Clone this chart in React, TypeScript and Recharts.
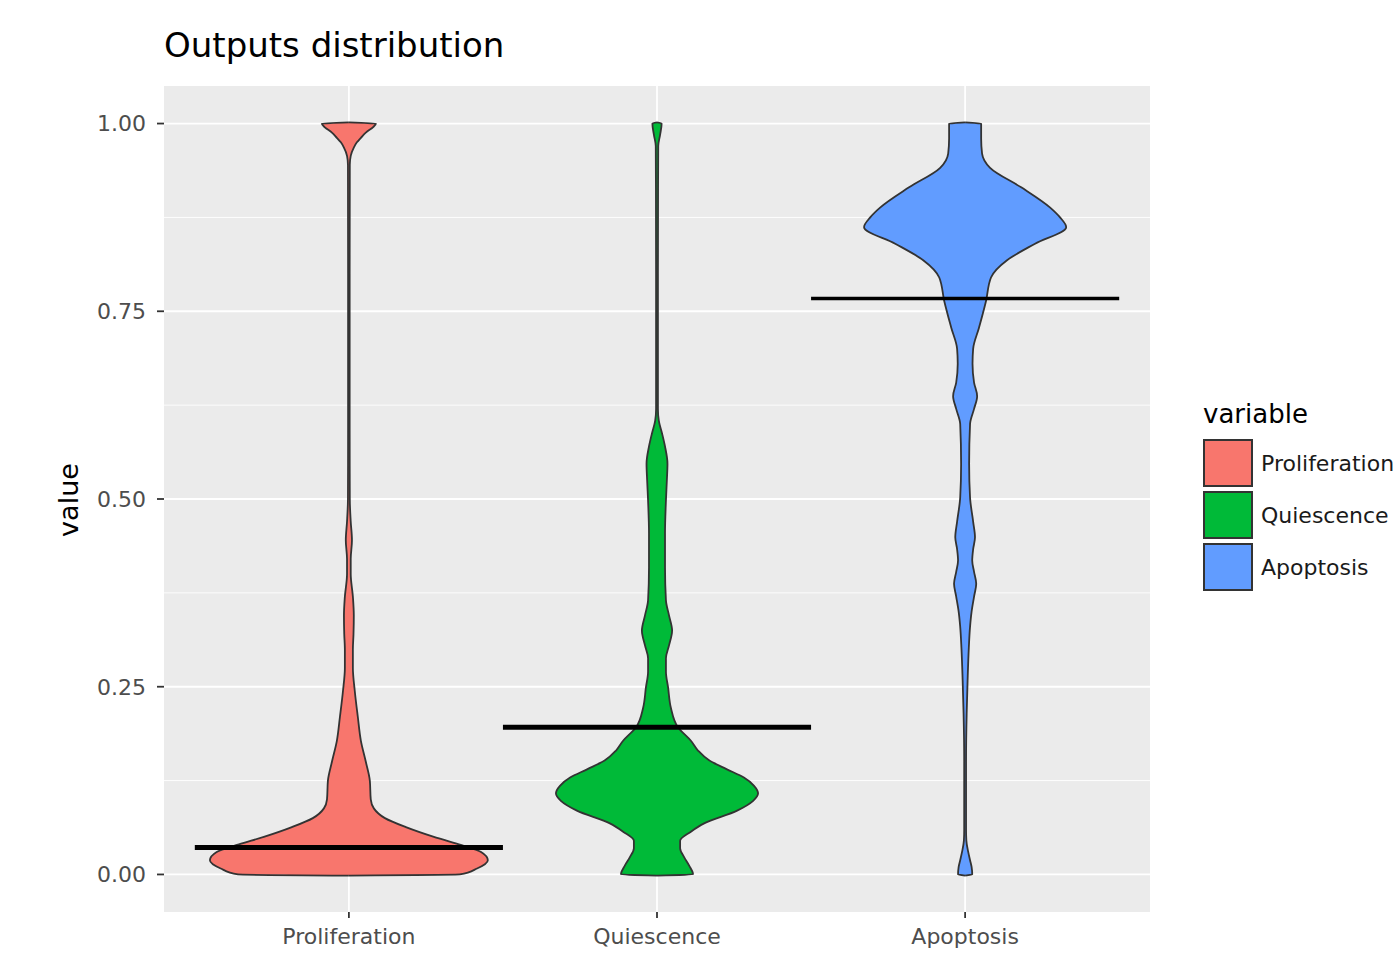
import { ComposedChart, Area, XAxis, YAxis, CartesianGrid, ReferenceLine, Legend } from 'recharts';

const CATEGORIES = ['Proliferation', 'Quiescence', 'Apoptosis'];
const COLORS = ['#F8766D', '#00BA38', '#619CFF'];
const MEANS = [0.036, 0.196, 0.767];
const Y_TICKS = [0, 0.25, 0.5, 0.75, 1];
const Y_MINOR = [0.125, 0.375, 0.625, 0.875];

// violin outlines: value -> half width (in category units)
const PROLIF_V = [-0.0015, 0, 0.008, 0.019, 0.03, 0.04, 0.05, 0.063, 0.075, 0.088, 0.1, 0.125, 0.15, 0.178, 0.21, 0.245, 0.275, 0.3, 0.32, 0.345, 0.37, 0.4, 0.42, 0.445, 0.47, 0.5, 0.6, 0.8, 0.945, 0.957, 0.968, 0.975, 0.981, 0.988, 0.995, 1, 1.0015];
const PROLIF_W = [0, 0.36, 0.416, 0.451, 0.429, 0.357, 0.276, 0.185, 0.117, 0.081, 0.071, 0.068, 0.055, 0.039, 0.029, 0.019, 0.013, 0.013, 0.015, 0.016, 0.013, 0.006, 0.006, 0.01, 0.006, 0.003, 0.0025, 0.0025, 0.003, 0.006, 0.016, 0.026, 0.039, 0.055, 0.078, 0.088, 0];

const QUIES_V = [-0.0015, 0, 0.012, 0.023, 0.035, 0.045, 0.057, 0.068, 0.085, 0.098, 0.108, 0.118, 0.129, 0.14, 0.152, 0.165, 0.178, 0.196, 0.222, 0.249, 0.27, 0.288, 0.305, 0.325, 0.345, 0.365, 0.409, 0.454, 0.498, 0.525, 0.547, 0.57, 0.588, 0.604, 0.62, 0.8, 0.97, 0.985, 1, 1.0015];
const QUIES_W = [0, 0.117, 0.104, 0.088, 0.075, 0.075, 0.11, 0.153, 0.26, 0.312, 0.328, 0.315, 0.282, 0.227, 0.169, 0.133, 0.11, 0.068, 0.045, 0.036, 0.029, 0.029, 0.039, 0.049, 0.039, 0.029, 0.026, 0.026, 0.029, 0.032, 0.034, 0.026, 0.016, 0.006, 0.003, 0.003, 0.004, 0.01, 0.015, 0];

const APOP_V = [-0.0015, 0, 0.01, 0.019, 0.03, 0.045, 0.06, 0.15, 0.214, 0.258, 0.302, 0.33, 0.35, 0.37, 0.387, 0.403, 0.418, 0.433, 0.449, 0.47, 0.502, 0.547, 0.6, 0.62, 0.637, 0.655, 0.68, 0.7, 0.728, 0.764, 0.795, 0.818, 0.84, 0.862, 0.875, 0.888, 0.915, 0.941, 0.96, 0.98, 1, 1.0015];
const APOP_W = [0, 0.023, 0.021, 0.016, 0.01, 0.004, 0.003, 0.003, 0.005, 0.008, 0.012, 0.016, 0.021, 0.029, 0.036, 0.029, 0.023, 0.026, 0.032, 0.026, 0.016, 0.013, 0.016, 0.029, 0.039, 0.029, 0.024, 0.026, 0.045, 0.068, 0.084, 0.136, 0.227, 0.328, 0.308, 0.276, 0.182, 0.081, 0.055, 0.052, 0.052, 0];

const VIOLINS = [
  { v: PROLIF_V, w: PROLIF_W },
  { v: QUIES_V, w: QUIES_W },
  { v: APOP_V, w: APOP_W },
];

const FONT = '"DejaVu Sans", sans-serif';

function VariableLegend() {
  return (
    <div style={{ fontFamily: FONT }}>
      <div style={{ fontSize: 26, lineHeight: '30px', color: '#000', marginBottom: 8 }}>variable</div>
      {CATEGORIES.map((c, i) => (
        <div key={c} style={{ display: 'flex', alignItems: 'center', height: 52 }}>
          <div
            style={{
              width: 50,
              height: 48,
              boxSizing: 'border-box',
              background: COLORS[i],
              border: '2px solid #333',
            }}
          />
          <span style={{ marginLeft: 8, fontSize: 22, color: '#1a1a1a', whiteSpace: 'nowrap' }}>{c}</span>
        </div>
      ))}
    </div>
  );
}

export default function App() {
  return (
    <div
      style={{
        position: 'absolute',
        left: 0,
        top: 0,
        width: 1396,
        height: 954,
        overflow: 'hidden',
        background: '#fff',
        fontFamily: FONT,
      }}
    >
      <div style={{ position: 'absolute', left: 164, top: 28, fontSize: 34, lineHeight: '34px', color: '#000' }}>
        Outputs distribution
      </div>
      <div
        style={{
          position: 'absolute',
          left: 68,
          top: 500,
          fontSize: 27,
          color: '#000',
          transform: 'translate(-50%, -50%) rotate(-90deg)',
        }}
      >
        value
      </div>
      <ComposedChart width={1396} height={954} layout="vertical" margin={{ top: 86, right: 246, bottom: 0, left: 100 }}>
        <CartesianGrid fill="#EBEBEB" vertical={false} horizontalValues={Y_MINOR} stroke="#fff" strokeWidth={0.9} />
        <CartesianGrid horizontalValues={Y_TICKS} verticalValues={[1, 2, 3]} stroke="#fff" strokeWidth={1.8} />
        <XAxis
          type="number"
          domain={[0.4, 3.6]}
          ticks={[1, 2, 3]}
          allowDataOverflow
          tickFormatter={(i: number) => CATEGORIES[i - 1]}
          height={42}
          axisLine={false}
          tickSize={6}
          tickMargin={10}
          tickLine={{ stroke: '#333', strokeWidth: 1.8 }}
          tick={{ fill: '#4D4D4D', fontSize: 22 }}
        />
        <YAxis
          type="number"
          dataKey="v"
          domain={[-0.05, 1.05]}
          ticks={Y_TICKS}
          reversed
          allowDataOverflow
          tickFormatter={(v: number) => v.toFixed(2)}
          width={64}
          axisLine={false}
          tickSize={7}
          tickMargin={11}
          tickLine={{ stroke: '#333', strokeWidth: 1.8 }}
          tick={{ fill: '#4D4D4D', fontSize: 22 }}
        />
        {VIOLINS.map((vl, i) => (
          <Area
            key={CATEGORIES[i]}
            name={CATEGORIES[i]}
            data={vl.v.map((v, k) => ({ v, span: [i + 1 - vl.w[k], i + 1 + vl.w[k]] }))}
            dataKey="span"
            type="monotone"
            fill={COLORS[i]}
            fillOpacity={1}
            stroke="#333"
            strokeWidth={1.8}
            dot={false}
            activeDot={false}
            isAnimationActive={false}
          />
        ))}
        {MEANS.map((m, i) => (
          <ReferenceLine
            key={'mean' + i}
            segment={[
              { x: i + 0.5, y: m },
              { x: i + 1.5, y: m },
            ]}
            stroke="#000"
            strokeWidth={i === 2 ? 3.5 : 5}
          />
        ))}
        <Legend
          layout="vertical"
          align="center"
          verticalAlign="middle"
          wrapperStyle={{ left: 1203, top: 399, width: 220 }}
          content={() => <VariableLegend />}
        />
      </ComposedChart>
    </div>
  );
}
